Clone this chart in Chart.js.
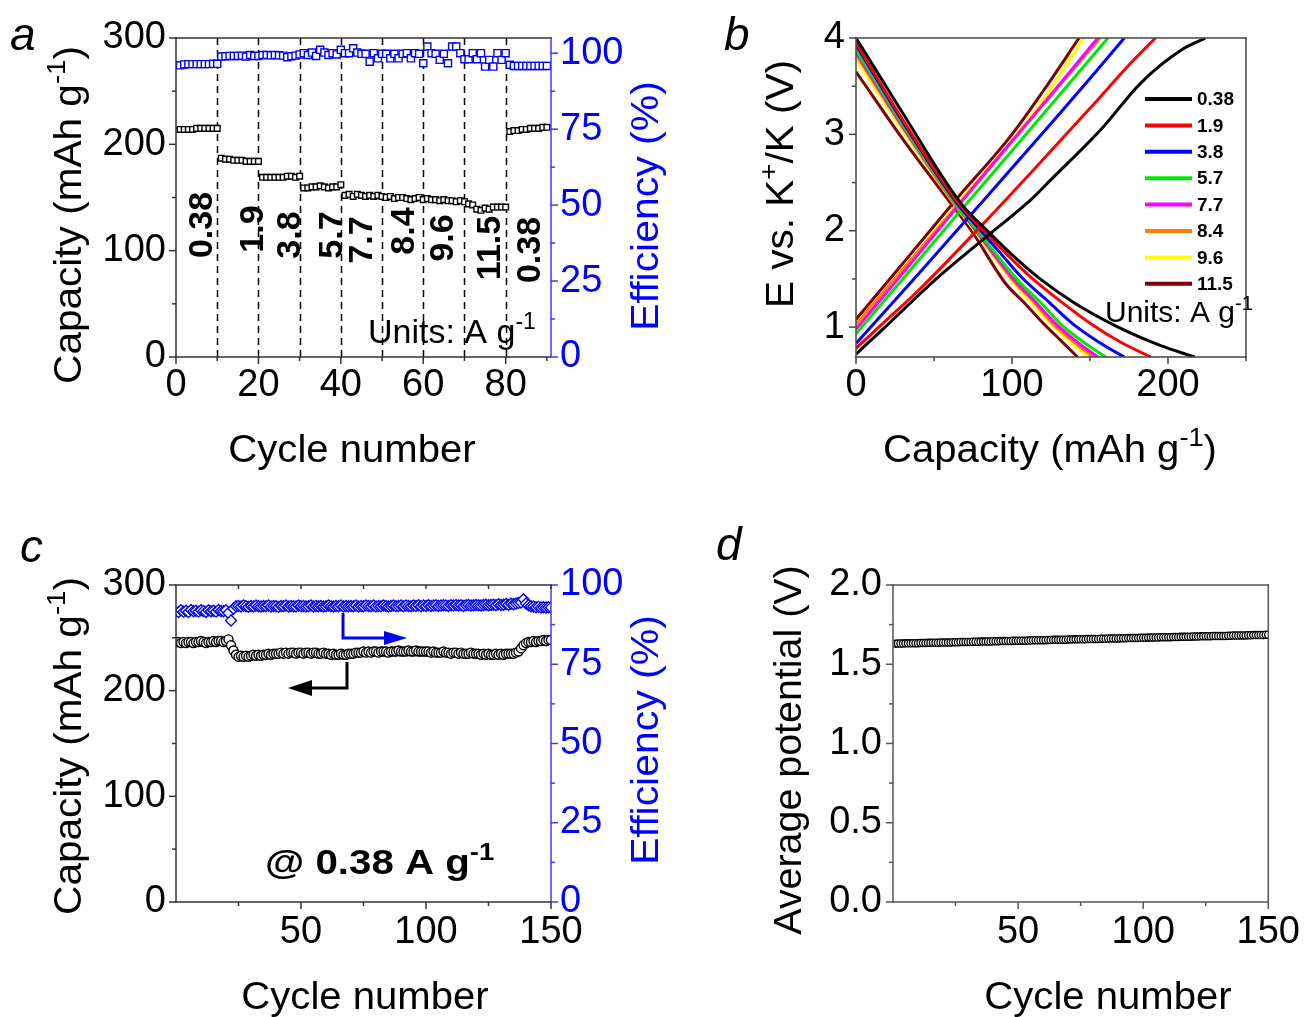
<!DOCTYPE html>
<html><head><meta charset="utf-8">
<script src="https://cdn.jsdelivr.net/npm/chart.js@4.4.1/dist/chart.umd.min.js"></script>
<style>
html,body{margin:0;padding:0;background:#fff;}
#wrap{position:relative;width:1308px;height:1017px;overflow:hidden;background:#fff;}
canvas{position:absolute;}
</style></head><body>
<div id="wrap">
<canvas id="ca" width="700" height="500" style="left:0px;top:0px"></canvas>
<canvas id="cb" width="608" height="500" style="left:700px;top:0px"></canvas>
<canvas id="cc" width="700" height="517" style="left:0px;top:500px"></canvas>
<canvas id="cd" width="608" height="517" style="left:700px;top:500px"></canvas>
</div>
<script>
// ---------------- DATA ----------------
// Panel a: rate capability
const A_CYCLES = Array.from({length: 90}, (_, i) => i + 1);
const A_CAPACITY = [
  214,214,214,214,215,215,215,215,215,215,
  187,186,186,185,185,185,184,184,184,184,
  169,169,169,169,169,169,170,170,169,170,
  159,159,160,160,161,160,159,160,160,162,
  152,153,151,153,152,151,152,151,152,151,
  150,151,149,150,150,149,148,149,150,148,
  149,148,148,147,148,147,147,146,147,146,
  144,143,139,138,140,139,141,141,141,141,
  212,213,213,214,214,215,215,215,216,216];
const A_EFFICIENCY = [
  96.0,96.3,96.4,96.4,96.4,96.4,96.4,96.4,96.5,96.5,
  98.9,99.0,99.1,99.1,99.1,99.2,98.9,99.4,99.1,99.1,
  99.4,99.4,99.3,99.4,99.3,99.2,98.7,99.0,99.2,99.6,
  100.0,99.4,100.2,99.1,101.1,100.2,99.4,100.0,99.6,101.1,
  100.0,100.0,101.6,100.2,99.8,99.8,97.2,100.0,98.3,99.8,
  99.8,98.3,99.8,98.3,99.8,100.0,98.3,100.0,99.8,96.7,
  102.2,100.0,99.8,97.8,99.8,96.7,102.2,102.2,100.0,98.0,
  98.0,100.0,98.0,100.0,95.6,97.8,95.6,100.0,97.8,100.0,
  96.2,95.8,95.8,95.8,95.8,95.8,95.8,95.8,95.8,95.8];
const A_RATE_LABELS = ['0.38','1.9','3.8','5.7','7.7','8.4','9.6','11.5','0.38'];
const A_RATE_BOUNDS = [10,20,30,40,50,60,70,80];
const A_X_TICKS = [0,20,40,60,80];
const A_X_MINOR = [10,30,50,70,90];
const A_Y_TICKS = [0,100,200,300];
const A_Y_MINOR = [50,150,250];
const A_Y2_TICKS = [0,25,50,75,100];
const A_Y2_MINOR = [12.5,37.5,62.5,87.5];

// Panel b: charge/discharge profiles (capacity mAh/g, potential V)
const B_RATES = ['0.38','1.9','3.8','5.7','7.7','8.4','9.6','11.5'];
const B_CHARGE = [
  [[0,0.72],[18,0.99],[50,1.48],[86,1.97],[112,2.32],[125,2.53],[157,3.05],[183,3.54],[210,3.89],[224,4.0]],
  [[0,0.78],[20,1.08],[40,1.38],[82,2.08],[108,2.53],[150,3.27],[175,3.72],[192,4.0]],
  [[0,0.83],[20,1.19],[40,1.55],[82,2.32],[127,3.15],[150,3.58],[172,4.0]],
  [[0,0.93],[30,1.50],[65,2.17],[100,2.83],[130,3.40],[161.5,4.0]],
  [[0,0.98],[30,1.56],[65,2.25],[100,2.93],[130,3.51],[155,4.0]],
  [[0,1.03],[30,1.60],[65,2.26],[100,2.93],[130,3.50],[156.5,4.0]],
  [[0,1.03],[30,1.60],[65,2.28],[99,2.92],[120,3.36],[146,4.0]],
  [[0,1.08],[30,1.66],[65,2.34],[99,2.98],[120,3.45],[143,4.0]]];
const B_DISCHARGE = [
  [[0,4.0],[30,3.22],[67,2.29],[86,1.97],[102,1.72],[118,1.5],[140,1.25],[168,1.0],[195,0.81],[217,0.69]],
  [[0,3.95],[30,3.15],[65,2.3],[82,2.0],[97,1.75],[112,1.52],[131,1.27],[151,1.03],[170,0.84],[189,0.69]],
  [[0,3.93],[30,3.13],[64,2.3],[80,2.0],[93,1.76],[106,1.52],[123,1.27],[140,1.02],[157,0.83],[172,0.69]],
  [[0,3.88],[30,3.1],[63,2.3],[78,2.0],[103,1.5],[118,1.26],[132,1.02],[147,0.83],[160,0.69]],
  [[0,3.85],[30,3.08],[63,2.3],[77,2.0],[101,1.5],[115,1.26],[129,1.02],[143,0.83],[155,0.69]],
  [[0,3.83],[30,3.07],[62,2.3],[77,2.0],[100,1.5],[114,1.26],[127,1.02],[141,0.83],[152,0.69]],
  [[0,3.78],[30,3.04],[62,2.3],[76,2.0],[99,1.5],[112,1.26],[126,1.02],[138,0.84],[149,0.69]],
  [[0,3.65],[30,2.95],[60,2.3],[74,2.0],[96,1.45],[108,1.25],[120,1.04],[132,0.85],[142,0.69]]];
const B_X_TICKS = [0,100,200];
const B_X_MINOR = [50,150,250];
const B_Y_TICKS = [1,2,3,4];
const B_Y_MINOR = [1.5,2.5,3.5];

// Panel c: long cycling at 0.38 A/g
const C_CYCLES = Array.from({length: 150}, (_, i) => i + 1);
const C_CAPACITY = [
  246,245,246,245,246,246,245,246,246,247,
  246,245,246,246,247,246,247,247,246,247,
  248.5,243,238,234,232,233,232,233,232,233,
  234,233,234,233,234,234,235,234,235,235,
  235,236,235,236,235,236,236,235,236,236,
  235,236,236,235,236,236,235,235,236,235,
  235,234,235,234,234,235,234,234,235,235,
  235,236,236,236,237,236,237,236,237,237,
  236,237,237,237,236,237,237,237,238,237,
  237,237,238,237,237,238,237,237,237,237,
  237,236,237,236,236,236,237,236,236,235,
  236,236,235,236,235,235,235,236,235,235,
  235,234,235,234,235,234,234,235,234,235,
  234,235,235,235,235,236,237,240,243,245,
  246,246,247,246,247,247,248,247,248,248];
const C_EFFICIENCY = [
  91.5,92.0,91.6,91.9,91.5,92.1,91.7,91.9,91.6,92.0,
  91.8,91.5,92.0,91.7,91.9,91.6,92.1,91.8,91.7,92.0,
  91.2,88.8,92.5,93.3,93.4,93.2,93.5,93.3,93.1,93.4,
  93.2,93.5,93.3,93.2,93.4,93.3,93.5,93.2,93.4,93.3,
  93.1,93.4,93.3,93.5,93.2,93.4,93.3,93.2,93.5,93.3,
  93.4,93.2,93.3,93.5,93.2,93.4,93.3,93.4,93.2,93.3,
  93.5,93.3,93.2,93.4,93.3,93.5,93.2,93.4,93.3,93.4,
  93.3,93.5,93.2,93.4,93.3,93.5,93.4,93.3,93.5,93.2,
  93.4,93.3,93.5,93.4,93.2,93.4,93.5,93.3,93.4,93.5,
  93.3,93.5,93.4,93.3,93.5,93.4,93.6,93.3,93.5,93.4,
  93.6,93.4,93.5,93.6,93.4,93.5,93.6,93.5,93.4,93.6,
  93.5,93.7,93.5,93.6,93.4,93.6,93.7,93.5,93.6,93.7,
  93.6,93.5,93.7,93.8,93.6,93.7,93.8,93.6,93.9,93.7,
  93.8,94.0,93.8,94.1,93.9,94.2,94.3,94.5,95.5,94.2,
  93.6,93.3,93.2,93.0,93.1,92.9,93.0,92.9,93.0,92.9];
const C_X_TICKS = [50,100,150];
const C_X_MINOR = [25,75,125];
const C_Y_TICKS = [0,100,200,300];
const C_Y_MINOR = [50,150,250];
const C_Y2_TICKS = [0,25,50,75,100];
const C_Y2_MINOR = [12.5,37.5,62.5,87.5];

// Panel d: average potential
const D_CYCLES = C_CYCLES;
const D_POTENTIAL = [
  1.630,1.631,1.631,1.631,1.632,1.632,1.632,1.633,1.633,1.633,
  1.634,1.634,1.634,1.635,1.635,1.636,1.636,1.636,1.637,1.637,
  1.637,1.638,1.638,1.639,1.639,1.639,1.640,1.640,1.640,1.641,
  1.641,1.642,1.642,1.642,1.643,1.643,1.643,1.644,1.644,1.645,
  1.645,1.645,1.646,1.646,1.646,1.647,1.647,1.648,1.648,1.648,
  1.649,1.649,1.649,1.650,1.650,1.651,1.651,1.651,1.652,1.652,
  1.652,1.653,1.653,1.654,1.654,1.654,1.655,1.655,1.655,1.656,
  1.656,1.657,1.657,1.657,1.658,1.658,1.658,1.659,1.659,1.660,
  1.660,1.660,1.661,1.661,1.661,1.662,1.662,1.663,1.663,1.663,
  1.664,1.664,1.664,1.665,1.665,1.666,1.666,1.666,1.667,1.667,
  1.667,1.668,1.668,1.669,1.669,1.669,1.670,1.670,1.670,1.671,
  1.671,1.672,1.672,1.672,1.673,1.673,1.673,1.674,1.674,1.675,
  1.675,1.675,1.676,1.676,1.676,1.677,1.677,1.678,1.678,1.678,
  1.679,1.679,1.679,1.680,1.680,1.681,1.681,1.681,1.682,1.682,
  1.682,1.683,1.683,1.684,1.684,1.684,1.685,1.685,1.686,1.686];
const D_X_TICKS = [50,100,150];
const D_X_MINOR = [25,75,125];
const D_Y_TICKS = [0,0.5,1,1.5,2];
const D_Y_MINOR = [0.25,0.75,1.25,1.75];

// ---------------- STYLE / HELPERS ----------------
const FONT = "'Liberation Sans', Arial, Helvetica, sans-serif";
const BLUE = '#0000ff';
const AXBLUE = '#3a3aff';
const B_COLORS = ['#000000','#ff0000','#0000ff','#00e800','#ff00ff','#ff8000','#ffff00','#800000'];
const ROT = -Math.PI / 2;

function pts(xs, ys) { return xs.map((x, i) => ({x: x, y: ys[i]})); }

function linScale(o) {
  return {
    type: 'linear', position: o.pos, min: o.min, max: o.max,
    grid: {display: false, drawTicks: false}, border: {display: false},
    title: {display: false},
    ticks: {font: {family: FONT, size: 38}, color: o.color || '#000', padding: o.pad,
            callback: o.fmt || (v => String(v)), maxRotation: 0, minRotation: 0, autoSkip: false},
    afterBuildTicks: s => { s.ticks = o.ticks.map(v => ({value: v})); },
    afterFit: s => { if (o.w != null) s.width = o.w; if (o.h != null) s.height = o.h; }
  };
}

function rich(ctx, o, ox, oy) {
  const size = o.size;
  const fnt = s => `${o.style || 'normal'} ${o.weight || 'normal'} ${s}px ${FONT}`;
  ctx.save();
  ctx.translate(o.x - ox, o.y - oy);
  if (o.rot) ctx.rotate(ROT);
  ctx.scale(o.hs || 1, 1);
  ctx.fillStyle = o.color || '#000';
  ctx.textBaseline = 'alphabetic';
  ctx.textAlign = 'left';
  let w = 0;
  const segs = o.t.map(p => {
    const s = p[1] ? size * 0.68 : size;
    ctx.font = fnt(s);
    const m = ctx.measureText(p[0]).width;
    w += m;
    return {txt: p[0], s: s, m: m, sup: !!p[1]};
  });
  let x = o.align === 'left' ? 0 : -w / 2;
  const by = o.mid ? size * 0.358 : 0;
  for (const g of segs) {
    ctx.font = fnt(g.s);
    ctx.fillText(g.txt, x, by - (g.sup ? size * 0.4 : 0));
    x += g.m;
  }
  ctx.restore();
}

function seg(ctx, x1, y1, x2, y2, col, lw) {
  ctx.strokeStyle = col; ctx.lineWidth = lw || 1.5;
  ctx.beginPath(); ctx.moveTo(x1, y1); ctx.lineTo(x2, y2); ctx.stroke();
}

function deco(spec) {
  return {
    id: 'deco',
    beforeDatasetsDraw(chart) {
      if (!spec.under) return;
      const ctx = chart.ctx; ctx.save(); spec.under(chart, ctx); ctx.restore();
    },
    afterDraw(chart) {
      const ctx = chart.ctx, ca = chart.chartArea, fr = spec.frame;
      ctx.save();
      ctx.setLineDash([]); ctx.lineCap = 'square';
      seg(ctx, ca.left, ca.top, ca.right, ca.top, fr.top);
      seg(ctx, ca.left, ca.bottom, ca.right, ca.bottom, fr.bottom);
      seg(ctx, ca.left, ca.top, ca.left, ca.bottom, fr.left);
      seg(ctx, ca.right, ca.top, ca.right, ca.bottom, fr.right);
      ctx.lineCap = 'butt';
      for (const t of spec.ticks) {
        const sc = chart.scales[t.scale];
        const groups = [[t.major, t.len || 7], [t.minor || [], t.mlen || 4]];
        for (const g of groups) for (const v of g[0]) {
          const p = sc.getPixelForValue(v);
          const d = (t.dir || 1) * g[1];
          if (t.side === 'bottom') seg(ctx, p, ca.bottom, p, ca.bottom + d, t.color);
          else if (t.side === 'top') seg(ctx, p, ca.top, p, ca.top - d, t.color);
          else if (t.side === 'left') seg(ctx, ca.left, p, ca.left - d, p, t.color);
          else seg(ctx, ca.right, p, ca.right + d, p, t.color);
        }
      }
      for (const tx of spec.texts) rich(ctx, tx, spec.ox, spec.oy);
      if (spec.over) spec.over(chart, ctx);
      ctx.restore();
    }
  };
}

const COMMON = {responsive: false, animation: false, devicePixelRatio: 1, events: [],
  plugins: {legend: {display: false}, tooltip: {enabled: false}}};

// ---------------- PANEL A ----------------
const A_LABEL_POS = [[200,225],[251,229],[288,235],[330,235],[360,240],[402,231],[441,238],[488,248],[528,250]];
new Chart(document.getElementById('ca'), {
  type: 'scatter',
  data: {datasets: [
    {data: pts(A_CYCLES, A_CAPACITY), yAxisID: 'y', pointStyle: 'rect', pointRadius: 4,
     borderColor: '#000', backgroundColor: '#fff', pointBorderWidth: 1.4},
    {data: pts(A_CYCLES, A_EFFICIENCY), yAxisID: 'y2', pointStyle: 'rect', pointRadius: 5,
     borderColor: BLUE, backgroundColor: '#fff', pointBorderWidth: 1.4}]},
  options: Object.assign({}, COMMON, {
    layout: {padding: {top: 38, left: 0, right: 0, bottom: 0}},
    scales: {
      x: linScale({pos: 'bottom', min: 0, max: 91, ticks: A_X_TICKS, pad: 6, h: 143}),
      y: linScale({pos: 'left', min: 0, max: 300, ticks: A_Y_TICKS, pad: 10, w: 176}),
      y2: linScale({pos: 'right', min: 0, max: 105, ticks: A_Y2_TICKS, pad: 9, w: 149, color: BLUE})
    }
  }),
  plugins: [deco({
    ox: 0, oy: 0,
    frame: {top: '#333', bottom: '#333', left: '#333', right: AXBLUE},
    ticks: [
      {scale: 'x', side: 'bottom', major: A_X_TICKS, minor: A_X_MINOR, color: '#333'},
      {scale: 'y', side: 'left', major: A_Y_TICKS, minor: A_Y_MINOR, color: '#333'},
      {scale: 'y2', side: 'right', major: A_Y2_TICKS, minor: A_Y2_MINOR, color: AXBLUE}],
    texts: [
      {t: [['a']], x: 10, y: 50, size: 46, style: 'italic', align: 'left'},
      {t: [['Capacity (mAh g'], ['-1', 1], [')']], x: 67, y: 215, size: 39, rot: 1, mid: 1, hs: 1.04},
      {t: [['Efficiency (%)']], x: 644, y: 206, size: 39, rot: 1, mid: 1, hs: 1.05, color: BLUE},
      {t: [['Cycle number']], x: 352, y: 448, size: 38, mid: 1, hs: 1.055},
      {t: [['Units: A g'], ['-1', 1]], x: 368, y: 343, size: 34, align: 'left'}
    ].concat(A_RATE_LABELS.map((l, i) => ({t: [[l]], x: A_LABEL_POS[i][0], y: A_LABEL_POS[i][1],
      size: 34, weight: 'bold', rot: 1, mid: 1}))),
    under: (chart, ctx) => {
      const sx = chart.scales.x, ca = chart.chartArea;
      ctx.setLineDash([7, 5]); ctx.lineWidth = 1.5; ctx.strokeStyle = '#000';
      for (const b of A_RATE_BOUNDS) {
        const p = Math.round(sx.getPixelForValue(b)) + 0.5;
        ctx.beginPath(); ctx.moveTo(p, ca.bottom); ctx.lineTo(p, ca.top); ctx.stroke();
      }
    }
  })]
});

// ---------------- PANEL B ----------------
const bSets = [];
B_RATES.forEach((r, i) => {
  bSets.push({data: B_CHARGE[i].map(p => ({x: p[0], y: p[1]})), borderColor: B_COLORS[i], showLine: true,
    pointRadius: 0, borderWidth: 3, cubicInterpolationMode: 'monotone', label: r});
  bSets.push({data: B_DISCHARGE[i].map(p => ({x: p[0], y: p[1]})), borderColor: B_COLORS[i], showLine: true,
    pointRadius: 0, borderWidth: 3, cubicInterpolationMode: 'monotone', label: r});
});
new Chart(document.getElementById('cb'), {
  type: 'scatter',
  data: {datasets: bSets},
  options: Object.assign({}, COMMON, {
    layout: {padding: {top: 38, left: 0, right: 62, bottom: 0}},
    scales: {
      x: linScale({pos: 'bottom', min: 0, max: 250, ticks: B_X_TICKS, pad: 6, h: 143}),
      y: linScale({pos: 'left', min: 0.69, max: 4, ticks: B_Y_TICKS, pad: 11, w: 156})
    }
  }),
  plugins: [deco({
    ox: 700, oy: 0,
    frame: {top: '#444', bottom: '#444', left: '#444', right: '#444'},
    ticks: [
      {scale: 'x', side: 'bottom', major: B_X_TICKS, minor: B_X_MINOR, color: '#444'},
      {scale: 'y', side: 'left', major: B_Y_TICKS, minor: B_Y_MINOR, color: '#444'}],
    texts: [
      {t: [['b']], x: 724, y: 50, size: 46, style: 'italic', align: 'left'},
      {t: [['E vs. K'], ['+', 1], ['/K (V)']], x: 779, y: 184, size: 39, rot: 1, mid: 1, hs: 1.04},
      {t: [['Capacity (mAh g'], ['-1', 1], [')']], x: 1050, y: 448, size: 38, mid: 1, hs: 1.055},
      {t: [['Units: A g'], ['-1', 1]], x: 1105, y: 322, size: 30, align: 'left'}],
    over: (chart, ctx) => {
      B_RATES.forEach((r, i) => {
        const y = 99 + i * 26.4;
        seg(ctx, 1145 - 700, y, 1192 - 700, y, B_COLORS[i], 4);
        ctx.fillStyle = '#000'; ctx.font = `bold 19px ${FONT}`;
        ctx.textBaseline = 'middle'; ctx.textAlign = 'left';
        ctx.fillText(r, 1197 - 700, y + 1);
      });
    }
  })]
});

// ---------------- PANEL C ----------------
new Chart(document.getElementById('cc'), {
  type: 'scatter',
  data: {datasets: [
    {data: pts(C_CYCLES, C_CAPACITY), yAxisID: 'y', pointStyle: 'circle', pointRadius: 4.5,
     borderColor: '#000', backgroundColor: '#fff', pointBorderWidth: 1.4},
    {data: pts(C_CYCLES, C_EFFICIENCY), yAxisID: 'y2', pointStyle: 'rectRot', pointRadius: 5.5,
     borderColor: BLUE, backgroundColor: '#fff', pointBorderWidth: 1.4}]},
  options: Object.assign({}, COMMON, {
    layout: {padding: {top: 85, left: 0, right: 0, bottom: 0}},
    scales: {
      x: linScale({pos: 'bottom', min: 0, max: 150, ticks: C_X_TICKS, pad: 8, h: 115}),
      y: linScale({pos: 'left', min: 0, max: 300, ticks: C_Y_TICKS, pad: 10, w: 176}),
      y2: linScale({pos: 'right', min: 0, max: 100, ticks: C_Y2_TICKS, pad: 9, w: 149, color: BLUE})
    }
  }),
  plugins: [deco({
    ox: 0, oy: 500,
    frame: {top: '#333', bottom: '#333', left: '#333', right: AXBLUE},
    ticks: [
      {scale: 'x', side: 'bottom', major: C_X_TICKS, minor: C_X_MINOR, color: '#333'},
      {scale: 'x', side: 'top', major: C_X_TICKS, minor: C_X_MINOR, color: '#333', dir: -1, len: 4, mlen: 4},
      {scale: 'y', side: 'left', major: C_Y_TICKS, minor: C_Y_MINOR, color: '#333'},
      {scale: 'y2', side: 'right', major: C_Y2_TICKS, minor: C_Y2_MINOR, color: AXBLUE}],
    texts: [
      {t: [['c']], x: 20, y: 562, size: 46, style: 'italic', align: 'left'},
      {t: [['Capacity (mAh g'], ['-1', 1], [')']], x: 67, y: 746, size: 39, rot: 1, mid: 1, hs: 1.04},
      {t: [['Efficiency (%)']], x: 644, y: 740, size: 39, rot: 1, mid: 1, hs: 1.05, color: BLUE},
      {t: [['Cycle number']], x: 365, y: 995, size: 38, mid: 1, hs: 1.055},
      {t: [['@ 0.38 A g'], ['-1', 1]], x: 265, y: 874, size: 35, weight: 'bold', align: 'left', hs: 1.15}],
    over: (chart, ctx) => {
      const oy = 500;
      ctx.lineCap = 'butt';
      // blue arrow -> efficiency axis
      ctx.strokeStyle = BLUE; ctx.lineWidth = 3;
      ctx.beginPath(); ctx.moveTo(343, 613 - oy); ctx.lineTo(343, 638 - oy); ctx.lineTo(388, 638 - oy); ctx.stroke();
      ctx.fillStyle = BLUE;
      ctx.beginPath(); ctx.moveTo(407, 638 - oy); ctx.lineTo(384, 631 - oy); ctx.lineTo(384, 645 - oy); ctx.closePath(); ctx.fill();
      // black arrow -> capacity axis
      ctx.strokeStyle = '#000';
      ctx.beginPath(); ctx.moveTo(347, 662 - oy); ctx.lineTo(347, 688 - oy); ctx.lineTo(306, 688 - oy); ctx.stroke();
      ctx.fillStyle = '#000';
      ctx.beginPath(); ctx.moveTo(288, 688 - oy); ctx.lineTo(312, 680 - oy); ctx.lineTo(312, 696 - oy); ctx.closePath(); ctx.fill();
    }
  })]
});

// ---------------- PANEL D ----------------
new Chart(document.getElementById('cd'), {
  type: 'scatter',
  data: {datasets: [
    {data: pts(D_CYCLES, D_POTENTIAL), pointStyle: 'circle', pointRadius: 3.6,
     borderColor: '#000', backgroundColor: '#fff', pointBorderWidth: 1.3}]},
  options: Object.assign({}, COMMON, {
    layout: {padding: {top: 85, left: 0, right: 39, bottom: 0}},
    scales: {
      x: linScale({pos: 'bottom', min: 0, max: 150, ticks: D_X_TICKS, pad: 8, h: 115}),
      y: linScale({pos: 'left', min: 0, max: 2, ticks: D_Y_TICKS, pad: 11, w: 193, fmt: v => v.toFixed(1)})
    }
  }),
  plugins: [deco({
    ox: 700, oy: 500,
    frame: {top: '#555', bottom: '#555', left: '#555', right: '#555'},
    ticks: [
      {scale: 'x', side: 'bottom', major: D_X_TICKS, minor: D_X_MINOR, color: '#555'},
      {scale: 'y', side: 'left', major: D_Y_TICKS, minor: D_Y_MINOR, color: '#555'}],
    texts: [
      {t: [['d']], x: 716, y: 560, size: 46, style: 'italic', align: 'left'},
      {t: [['Average potential (V)']], x: 787, y: 750, size: 39, rot: 1, mid: 1, hs: 1.01},
      {t: [['Cycle number']], x: 1108, y: 995, size: 38, mid: 1, hs: 1.055}]
  })]
});
</script>
</body></html>
